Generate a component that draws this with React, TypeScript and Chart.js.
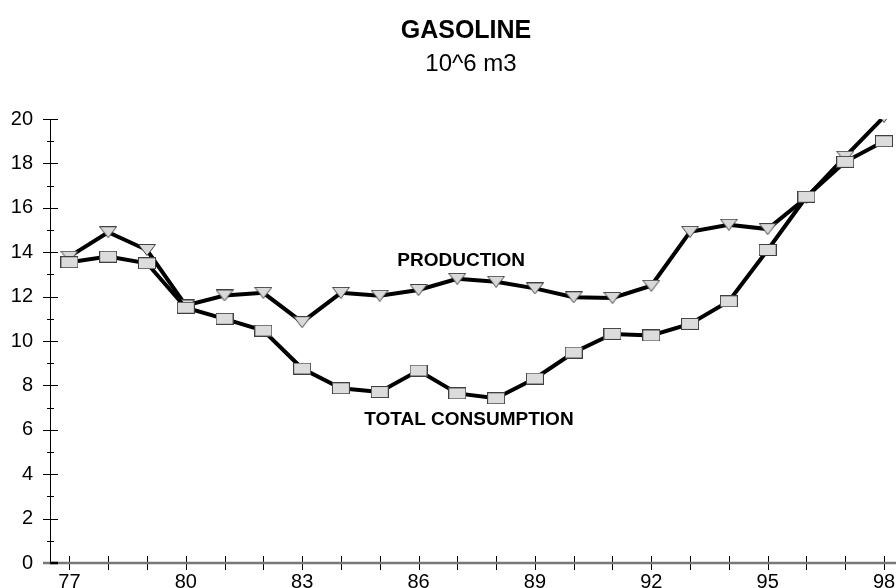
import React, { useEffect, useRef } from "react";
import { Chart, registerables } from "chart.js";

Chart.register(...registerables);

const years = [77, 78, 79, 80, 81, 82, 83, 84, 85, 86, 87, 88, 89, 90, 91, 92, 93, 94, 95, 96, 97, 98];
const production = [13.8, 14.9, 14.1, 11.6, 12.05, 12.17, 10.85, 12.17, 12.04, 12.3, 12.8, 12.67, 12.37, 11.97, 11.94, 12.49, 14.92, 15.24, 15.04, 16.46, 18.3, 20.1];
const consumption = [13.55, 13.8, 13.5, 11.5, 11.0, 10.47, 8.76, 7.87, 7.7, 8.67, 7.64, 7.42, 8.31, 9.48, 10.32, 10.25, 10.77, 11.79, 14.1, 16.5, 18.07, 19.0];
const yTicks = [0, 2, 4, 6, 8, 10, 12, 14, 16, 18, 20];
const yMinorTicks = [1, 3, 5, 7, 9, 11, 13, 15, 17, 19];
const xLabelYears = [77, 80, 83, 86, 89, 92, 95, 98];
const titleText = "GASOLINE";
const subtitleText = "10^6 m3";
const seriesLabels = [
  { text: "PRODUCTION", x: 87.1, y: 13.62 },
  { text: "TOTAL CONSUMPTION", x: 87.3, y: 6.45 },
];

const FONT = "'Liberation Sans', Arial, sans-serif";

function makeTriangle() {
  const c = document.createElement("canvas");
  c.width = 18;
  c.height = 12;
  const g = c.getContext("2d")!;
  g.beginPath();
  g.moveTo(0.5, 0.5);
  g.lineTo(17.5, 0.5);
  g.lineTo(9, 11.5);
  g.closePath();
  g.fillStyle = "#d9d9d9";
  g.fill();
  g.strokeStyle = "#404040";
  g.lineWidth = 1;
  g.stroke();
  return c;
}

function makeRect() {
  const c = document.createElement("canvas");
  c.width = 18;
  c.height = 12;
  const g = c.getContext("2d")!;
  g.fillStyle = "#dcdcdc";
  g.fillRect(0.5, 0.5, 17, 11);
  g.strokeStyle = "#404040";
  g.lineWidth = 1;
  g.strokeRect(0.5, 0.5, 17, 11);
  return c;
}

const axesPlugin = {
  id: "customAxes",
  beforeDatasetsDraw(chart: any) {
    const ctx = chart.ctx;
    const xs = chart.scales.x;
    const ys = chart.scales.y;
    const ax = chart.chartArea.left;
    const y0 = ys.getPixelForValue(0);
    const yTop = ys.getPixelForValue(20);
    ctx.save();
    ctx.strokeStyle = "#000";
    ctx.lineWidth = 1;
    ctx.beginPath();
    ctx.moveTo(ax + 0.5, yTop);
    ctx.lineTo(ax + 0.5, y0);
    ctx.stroke();
    yTicks.forEach((v) => {
      const py = Math.round(ys.getPixelForValue(v)) + 0.5;
      ctx.beginPath();
      ctx.moveTo(ax - 7, py);
      ctx.lineTo(ax + 8, py);
      ctx.stroke();
    });
    yMinorTicks.forEach((v) => {
      const py = Math.round(ys.getPixelForValue(v)) + 0.5;
      ctx.beginPath();
      ctx.moveTo(ax - 3, py);
      ctx.lineTo(ax + 4, py);
      ctx.stroke();
    });
    ctx.fillStyle = "#000";
    ctx.font = `20px ${FONT}`;
    ctx.textAlign = "right";
    ctx.textBaseline = "middle";
    yTicks.forEach((v) => {
      ctx.fillText(String(v), ax - 17, ys.getPixelForValue(v));
    });
    years.forEach((yr) => {
      const px = Math.round(xs.getPixelForValue(yr)) + 0.5;
      ctx.beginPath();
      ctx.moveTo(px, y0 - 7);
      ctx.lineTo(px, y0 + 7);
      ctx.stroke();
    });
    ctx.strokeStyle = "#777";
    ctx.lineWidth = 2.5;
    ctx.beginPath();
    ctx.moveTo(ax - 7, y0);
    ctx.lineTo(chart.width, y0);
    ctx.stroke();
    ctx.strokeStyle = "#000";
    ctx.lineWidth = 2.5;
    ctx.beginPath();
    ctx.moveTo(ax, y0);
    ctx.lineTo(ax + 8, y0);
    ctx.stroke();
    ctx.textAlign = "center";
    ctx.textBaseline = "alphabetic";
    xLabelYears.forEach((yr) => {
      ctx.fillText(String(yr), xs.getPixelForValue(yr), y0 + 24.5);
    });
    ctx.restore();
  },
  afterDraw(chart: any) {
    const ctx = chart.ctx;
    const xs = chart.scales.x;
    const ys = chart.scales.y;
    ctx.save();
    ctx.fillStyle = "#000";
    ctx.textAlign = "center";
    ctx.textBaseline = "middle";
    ctx.font = `bold 25px ${FONT}`;
    ctx.fillText(titleText, 466, 31);
    ctx.font = `24px ${FONT}`;
    ctx.fillText(subtitleText, 471, 64);
    ctx.font = `bold 19px ${FONT}`;
    seriesLabels.forEach((l) => {
      ctx.fillText(l.text, xs.getPixelForValue(l.x), ys.getPixelForValue(l.y));
    });
    ctx.restore();
  },
};

export default function App() {
  const ref = useRef<HTMLCanvasElement | null>(null);
  useEffect(() => {
    if (!ref.current) return;
    const tri = makeTriangle();
    const rect = makeRect();
    const chart = new Chart(ref.current, {
      type: "line",
      data: {
        datasets: [
          {
            label: "PRODUCTION",
            data: years.map((x, i) => ({ x, y: production[i] })),
            borderColor: "#000",
            borderWidth: 4,
            pointStyle: tri as any,
            pointRadius: 8,
            order: 2,
            clip: { left: 20, right: 20, top: 0, bottom: 20 } as any,
          },
          {
            label: "TOTAL CONSUMPTION",
            data: years.map((x, i) => ({ x, y: consumption[i] })),
            borderColor: "#000",
            borderWidth: 4,
            pointStyle: rect as any,
            pointRadius: 8,
            order: 1,
            clip: { left: 20, right: 20, top: 10, bottom: 20 } as any,
          },
        ],
      },
      options: {
        animation: false,
        responsive: true,
        maintainAspectRatio: false,
        layout: { padding: { left: 50, right: 12, top: 119, bottom: 25 } },
        plugins: { legend: { display: false }, tooltip: { enabled: false }, title: { display: false } },
        scales: {
          x: { type: "linear", min: 76.5, max: 98, display: false },
          y: { min: 0, max: 20, display: false },
        },
      },
      plugins: [axesPlugin],
    });
    return () => chart.destroy();
  }, []);
  return (
    <div style={{ position: "absolute", left: 0, top: 0, width: 896, height: 588, background: "#fff" }}>
      <canvas ref={ref} />
    </div>
  );
}
